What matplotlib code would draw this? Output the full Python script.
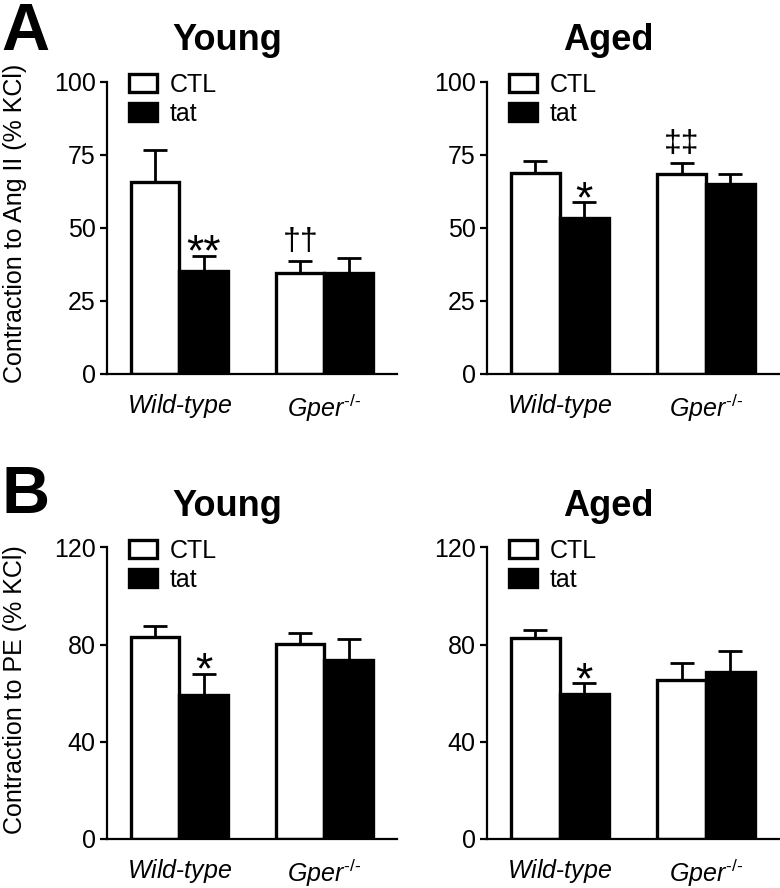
import numpy as np
import matplotlib
matplotlib.use("Agg")
import matplotlib.pyplot as plt
from matplotlib.patches import Patch

plt.rcParams['font.family'] = ['Liberation Sans', 'DejaVu Sans']
plt.rcParams['mathtext.fontset'] = 'custom'
plt.rcParams['mathtext.rm'] = 'Liberation Sans'
plt.rcParams['mathtext.it'] = 'Liberation Sans:italic'

# ---- data ----
groups = ['Wild-type', 'Gper-/-']
group_labels = [r'$\it{Wild}$-$\it{type}$', '$\\it{Gper}^{\\it{\u2010/\u2010}}$']

angii_young_ctl = [65.6, 34.5]
angii_young_ctl_sem = [11.0, 4.1]
angii_young_tat = [35.3, 34.5]
angii_young_tat_sem = [5.0, 5.0]

angii_aged_ctl = [68.7, 68.4]
angii_aged_ctl_sem = [4.0, 3.8]
angii_aged_tat = [53.5, 64.9]
angii_aged_tat_sem = [5.2, 3.5]

pe_young_ctl = [83.1, 80.2]
pe_young_ctl_sem = [4.4, 4.7]
pe_young_tat = [59.2, 73.7]
pe_young_tat_sem = [8.8, 8.7]

pe_aged_ctl = [82.5, 65.2]
pe_aged_ctl_sem = [3.5, 7.0]
pe_aged_tat = [59.5, 68.8]
pe_aged_tat_sem = [4.5, 8.6]

# significance marks: (group index, 'ctl'/'tat', symbol)
marks_a_young = [(0, 'tat', '**'), (1, 'ctl', '\u2020\u2020')]
marks_a_aged = [(0, 'tat', '*'), (1, 'ctl', '\u2021\u2021')]
marks_b_young = [(0, 'tat', '*')]
marks_b_aged = [(0, 'tat', '*')]

centers = np.array([1.5, 4.5])
width = 1.0


def draw_panel(ax, ctl, ctl_sem, tat, tat_sem, ymax, yticks, title, marks):
    x_ctl = centers - width / 2
    x_tat = centers + width / 2
    ax.bar(x_ctl, ctl, width, color='white', edgecolor='black', linewidth=2.4, zorder=2)
    ax.bar(x_tat, tat, width, color='black', edgecolor='black', linewidth=2.4, zorder=2)
    for xs, vals, sem in [(x_ctl, ctl, ctl_sem), (x_tat, tat, tat_sem)]:
        ax.errorbar(xs, vals, yerr=[np.zeros(len(sem)), sem], fmt='none',
                    ecolor='black', elinewidth=2, capsize=8.5, capthick=2, zorder=3)

    for gi, which, sym in marks:
        if which == 'ctl':
            xx, top = x_ctl[gi], ctl[gi] + ctl_sem[gi]
        else:
            xx, top = x_tat[gi], tat[gi] + tat_sem[gi]
        if '*' in sym:
            ax.annotate(sym, (xx, top), xytext=(0, -7), textcoords='offset points',
                        ha='center', va='baseline', fontsize=32)
        else:
            ax.annotate(sym, (xx, top), xytext=(0, 8), textcoords='offset points',
                        ha='center', va='baseline', fontsize=23)

    ax.set_xlim(0, 6)
    ax.set_ylim(0, ymax)
    ax.set_yticks(yticks)
    ax.set_xticks(centers)
    ax.set_xticklabels(group_labels)
    ax.spines['top'].set_visible(False)
    ax.spines['right'].set_visible(False)
    ax.spines['left'].set_linewidth(1.6)
    ax.spines['bottom'].set_linewidth(1.6)
    ax.tick_params(axis='y', direction='out', length=5, width=1.6, labelsize=18, pad=3)
    ax.tick_params(axis='x', length=0, labelsize=18, pad=13)
    ax.set_title(title, fontsize=26, fontweight='bold', x=0.415, pad=23)

    handles = [Patch(facecolor='white', edgecolor='black', linewidth=2.4),
               Patch(facecolor='black', edgecolor='black', linewidth=2.4)]
    ax.legend(handles, ['CTL', 'tat'], loc='upper left', bbox_to_anchor=(0.075, 1.03),
              frameon=False, fontsize=18, handlelength=1.15, handleheight=0.72,
              labelspacing=0.2, handletextpad=0.5, borderpad=0, borderaxespad=0)


fig = plt.figure(figsize=(7.8, 8.88), dpi=100)

ax1 = fig.add_axes([0.137, 0.579, 0.372, 0.329])
ax2 = fig.add_axes([0.624, 0.579, 0.375, 0.329])
ax3 = fig.add_axes([0.137, 0.0555, 0.372, 0.328])
ax4 = fig.add_axes([0.624, 0.0555, 0.375, 0.328])

draw_panel(ax1, angii_young_ctl, angii_young_ctl_sem, angii_young_tat, angii_young_tat_sem,
           100, [0, 25, 50, 75, 100], 'Young', marks_a_young)
draw_panel(ax2, angii_aged_ctl, angii_aged_ctl_sem, angii_aged_tat, angii_aged_tat_sem,
           100, [0, 25, 50, 75, 100], 'Aged', marks_a_aged)
draw_panel(ax3, pe_young_ctl, pe_young_ctl_sem, pe_young_tat, pe_young_tat_sem,
           120, [0, 40, 80, 120], 'Young', marks_b_young)
draw_panel(ax4, pe_aged_ctl, pe_aged_ctl_sem, pe_aged_tat, pe_aged_tat_sem,
           120, [0, 40, 80, 120], 'Aged', marks_b_aged)

fig.text(0.019, 0.749, 'Contraction to Ang II (% KCl)', rotation=90, fontsize=18,
         ha='center', va='center')
fig.text(0.019, 0.223, 'Contraction to PE (% KCl)', rotation=90, fontsize=18,
         ha='center', va='center')

fig.text(0.002, 0.9437, 'A', fontsize=48, fontweight='bold', va='baseline')
fig.text(0.002, 0.4223, 'B', fontsize=48, fontweight='bold', va='baseline')

plt.savefig('out.png', dpi=100)
